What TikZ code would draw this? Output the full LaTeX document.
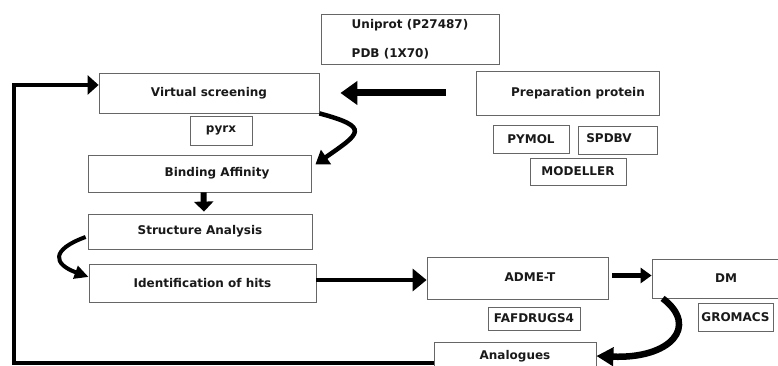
\documentclass[tikz,border=0pt]{standalone}
\usepackage{fontspec}
\setmainfont{DejaVu Sans}
\usetikzlibrary{arrows.meta,positioning,calc}
\tikzstyle{block}=[rectangle,
                   draw=black!60,
                   line width=0.8pt,
                   text=black!90,
                   inner sep=2pt,
                   font=\bfseries\fontsize{12}{14}\selectfont]
\tikzstyle{tool}=[block, minimum height=28pt]
\tikzstyle{line}=[draw, line width=4.5pt]
\tikzstyle{fat}=[draw, line width=6.5pt]

\begin{document}
\begin{tikzpicture}[x=1pt,y=1pt]
      \useasboundingbox (0,0) rectangle (778,366);

      % left column
      \node [block, minimum width=178pt, minimum height=50pt, align=left] (uni) at (410,327) {Uniprot (P27487)\\[15pt]PDB (1X70)};
      \node [block, minimum width=220pt, minimum height=40pt] (vs) at (209,273) {Virtual screening};
      \node [tool, minimum width=62pt, minimum height=29pt] (pyrx) at (221,235.5) {pyrx};
      \node [block, minimum width=223pt, minimum height=37pt] (ba) at (199.5,192.5) {\hspace*{35pt}Binding Affinity};
      \node [block, minimum width=224pt, minimum height=35pt] (sa) at (200,134.5) {Structure Analysis};
      \node [block, minimum width=227pt, minimum height=38pt] (hits) at (202.5,83) {Identification of hits};

      % protein side
      \node [block, minimum width=183pt, minimum height=44pt] (prep) at (567.5,273) {\hspace*{21pt}Preparation protein};
      \node [tool, minimum width=76pt] (pymol) at (531,227) {PYMOL};
      \node [tool, minimum width=79pt] (spdbv) at (617.5,226) {\hspace*{-17pt}\raisebox{3pt}{SPDBV}};
      \node [tool, minimum width=96pt, minimum height=27pt] (modeller) at (578,194.5) {MODELLER};

      % bottom row
      \node [block, minimum width=181pt, minimum height=42pt] (adme) at (517.5,88) {\hspace*{25pt}\raisebox{2pt}{ADME-T}};
      \node [tool, minimum width=92pt, minimum height=23pt] (faf) at (534,47.5) {FAFDRUGS4};
      \node [block, minimum width=148pt, minimum height=39pt] (dm) at (726,87.5) {\raisebox{-3pt}{DM}};
      \node [tool, minimum width=75pt] (gromacs) at (735.5,49) {GROMACS};
      \node [block, minimum width=162pt, minimum height=28pt] (ana) at (515,10) {Analogues};

      \coordinate (back) at (14,2.5);

      \path [fat, line width=7pt, -{Triangle[length=17pt,width=23pt]}, shorten <=30pt, shorten >=21pt] (prep) -- (vs);
      \path [line, line width=4pt, -{Triangle[length=11pt,width=19pt]}] (ana.west |- back) -- (back) |- ([yshift=8pt]vs.west);
      \path [line, -{Triangle[length=13pt,width=17pt]}] (vs.south east) to[out=-15,in=35,looseness=2.7] ([xshift=4pt,yshift=9pt]ba.east);
      \path [fat, line width=6pt, -{Triangle[length=10pt,width=19pt]}, shorten >=2pt] ([xshift=4pt]ba.south) -- ([xshift=4pt]sa.north);
      \path [line, line width=4pt, -{Triangle[length=14pt,width=13pt]}] ([xshift=-2pt,yshift=-5.5pt]sa.west) to[out=200,in=160,looseness=2.4] ([yshift=6pt]hits.west);
      \path [line, -{Triangle[length=14pt,width=22pt]}] ([yshift=3pt]hits.east) -- ([yshift=3pt]hits.east -| adme.west);
      \path [line, line width=5pt, -{Triangle[length=11pt,width=15pt]}, shorten <=4pt] ([yshift=2.5pt]adme.east) -- ([yshift=2.5pt]adme.east -| dm.west);
      \path [fat, -{Triangle[length=17pt,width=18pt]}] ([xshift=11pt]dm.south west) .. controls +(37,-28) and +(74,-3) .. (ana.east);
\end{tikzpicture}
\end{document}
